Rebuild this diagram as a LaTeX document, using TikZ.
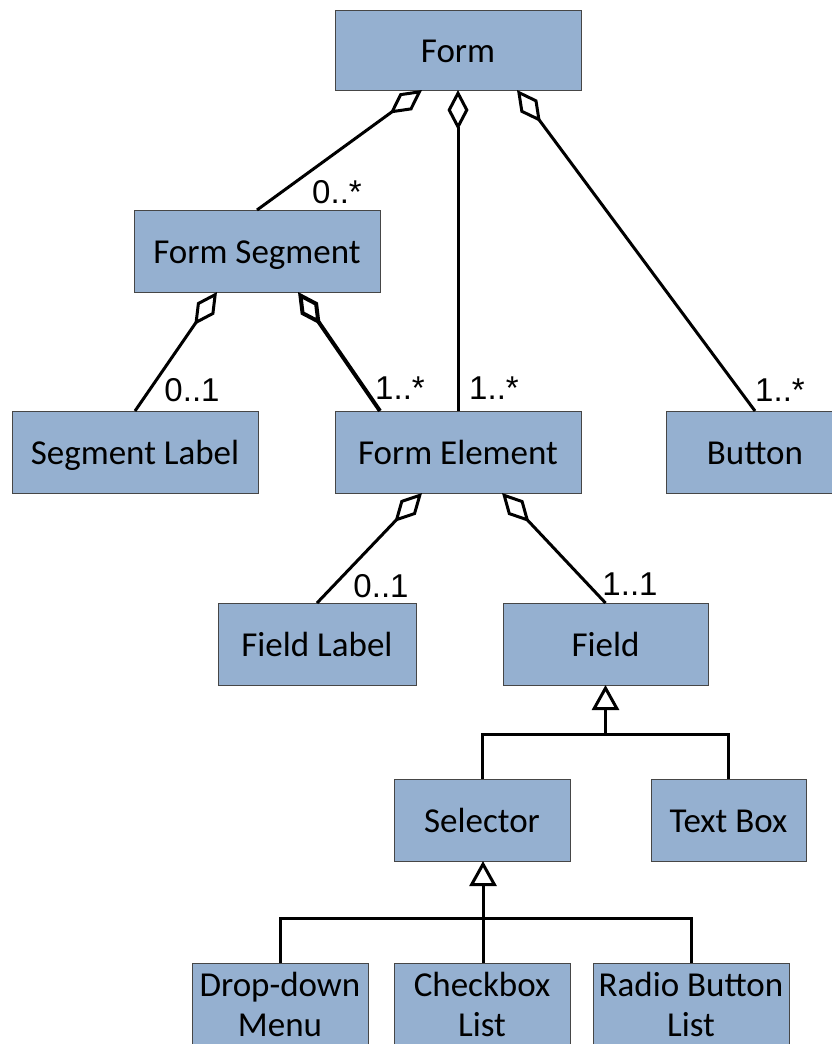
\documentclass[tikz,border=0pt]{standalone}
\usepackage{fontspec}
\setmainfont{Carlito}
\newfontfamily\labelfont{Liberation Sans}
\usetikzlibrary{arrows.meta,calc}
\definecolor{boxfill}{RGB}{149,176,208}
\definecolor{boxline}{RGB}{70,70,70}
\tikzset{
  cls/.style={draw=boxline, line width=1pt, fill=boxfill, inner sep=0pt, outer sep=0pt,
    minimum height=82pt, font=\fontsize{35}{40}\selectfont, align=center},
  cls1/.style={cls, text height=30pt, text depth=6pt},
  conn/.style={line width=3pt},
  agg/.style={conn, -{Diamond[open, length=40pt, width=21pt]}},
  gen/.style={conn, -{Triangle[open, length=25pt, width=27pt]}},
  mult/.style={font=\labelfont\fontsize{33}{33}\selectfont, inner sep=0pt}
}
\begin{document}
\begin{tikzpicture}[x=1pt, y=-1pt]
\useasboundingbox (0,0) rectangle (832,1044);

% classes
\node[cls1, minimum width=246pt, minimum height=80pt] (form) at (458,50) {Form};
\node[cls1, minimum width=246pt] (seg) at (257,251) {Form Segment};
\node[cls1, minimum width=246pt] (seglabel) at (135,452) {Segment Label};
\node[cls1, minimum width=246pt] (elem) at (458,452) {Form Element};
\node[cls1, minimum width=178pt] (button) at (755,452) {Button};
\node[cls1, minimum width=198pt] (fieldlabel) at (317,644) {Field Label};
\node[cls1, minimum width=205pt] (field) at (605.5,644) {Field};
\node[cls1, minimum width=176pt] (selector) at (482,820) {Selector};
\node[cls1, minimum width=155pt] (textbox) at (728.5,820) {Text Box};
\node[cls, minimum width=176pt] (dropdown) at (280,1004) {Drop-down\\Menu};
\node[cls, minimum width=176pt] (checkbox) at (482,1004) {Checkbox\\List};
\node[cls, minimum width=196pt] (radio) at (691,1004) {Radio Button\\List};

% aggregations
\draw[agg] (seg.north) -- ($(form.south)+(-36,0)$);
\draw[agg] (elem.north) -- (form.south);
\draw[agg] (button.north) -- ($(form.south)+(59,0)$);
\draw[agg] (seglabel.north) -- ($(seg.south)+(-40,0)$);
\draw[agg, line width=4pt] ($(elem.north)+(-78,0)$) -- ($(seg.south)+(41,0)$);
\draw[agg] (fieldlabel.north) -- ($(elem.south)+(-36,0)$);
\draw[agg] (field.north) -- ($(elem.south)+(44,0)$);

% generalizations
\coordinate (fj) at ($(field.south)+(0,49)$);
\draw[gen] (fj) -- (field.south);
\draw[conn] (selector.north) |- (fj) -| (textbox.north);

\coordinate (sj) at ($(selector.south)+(1,57)$);
\draw[gen] (sj) -- ($(selector.south)+(1,0)$);
\draw[conn] (dropdown.north) |- (sj) -| (radio.north);
\draw[conn] ($(checkbox.north)+(1,0)$) -- (sj);

% multiplicities
\node[mult] (m1) at (337,192) {0..*};
\node[mult] (m2) at (400,388) {1..*};
\node[mult] (m3) at (192,390) {0..1};
\node[mult] (m4) at (494,388) {1..*};
\node[mult] (m5) at (780,390) {1..*};
\node[mult] (m6) at (381,586) {0..1};
\node[mult] (m7) at (630,584) {1..1};
\end{tikzpicture}
\end{document}
